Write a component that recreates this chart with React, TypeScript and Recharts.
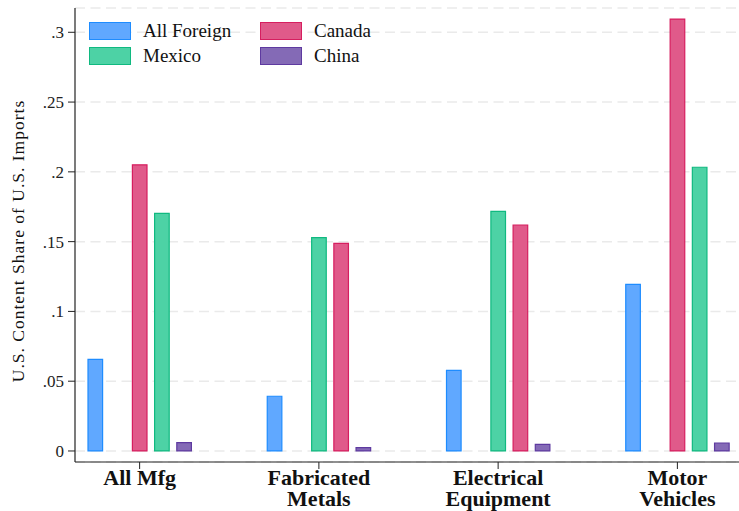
import React from 'react';
import { BarChart, Bar, XAxis, YAxis, CartesianGrid, Legend, Cell } from 'recharts';

const categories = ['All Mfg', 'Fabricated Metals', 'Electrical Equipment', 'Motor Vehicles'];
const tickLines: Record<string, string[]> = {
    'All Mfg': ['All Mfg'],
    'Fabricated Metals': ['Fabricated', 'Metals'],
    'Electrical Equipment': ['Electrical', 'Equipment'],
    'Motor Vehicles': ['Motor', 'Vehicles'],
};
const allForeign = [0.0657, 0.0392, 0.0577, 0.1194];
const canada = [0.205, 0.1488, 0.1619, 0.3095];
const mexico = [0.1703, 0.1528, 0.1717, 0.2033];
const china = [0.006, 0.0024, 0.0048, 0.0057];
const yTicks = [0, 0.05, 0.1, 0.15, 0.2, 0.25, 0.3];

const FONT = '"Liberation Serif", "DejaVu Serif", serif';

const colors: Record<string, { fill: string; stroke: string }> = {
    'All Foreign': { fill: '#60A8FF', stroke: '#1E8CFF' },
    Canada: { fill: '#E05A8A', stroke: '#D61E5F' },
    Mexico: { fill: '#4DD2A5', stroke: '#10B980' },
    China: { fill: '#846AB6', stroke: '#5E3AA0' },
};

// slots per group: All Foreign, empty, larger of Canada/Mexico, smaller, China
const rows = categories.map((name, i) => {
    const canFirst = canada[i] >= mexico[i];
    return {
        name,
        s0: allForeign[i],
        s1: null as number | null,
        s2: canFirst ? canada[i] : mexico[i],
        s3: canFirst ? mexico[i] : canada[i],
        s4: china[i],
        k2: canFirst ? 'Canada' : 'Mexico',
        k3: canFirst ? 'Mexico' : 'Canada',
    };
});

const legendItems = ['All Foreign', 'Canada', 'Mexico', 'China'];

const renderLegend = () => (
    <div style={{ display: 'grid', gridTemplateColumns: '171px auto', rowGap: 7, fontFamily: FONT }}>
        {legendItems.map((name) => (
            <div key={name} style={{ display: 'flex', alignItems: 'center', height: 18 }}>
                <div
                    style={{
                        width: 42,
                        height: 18,
                        boxSizing: 'border-box',
                        background: colors[name].fill,
                        border: `1.5px solid ${colors[name].stroke}`,
                        marginRight: 12,
                    }}
                />
                <span style={{ fontSize: 19, lineHeight: '18px', color: '#111', whiteSpace: 'nowrap' }}>{name}</span>
            </div>
        ))}
    </div>
);

const XTick = (props: any) => {
    const { x, y, payload } = props;
    const lines = tickLines[payload.value] || [String(payload.value)];
    return (
        <g transform={`translate(${x},${y})`}>
            <text textAnchor="middle" fontFamily={FONT} fontSize={22} fontWeight="bold" fill="#111">
                {lines.map((l, i) => (
                    <tspan key={l} x={0} y={13.5 + i * 21.7}>
                        {l}
                    </tspan>
                ))}
            </text>
        </g>
    );
};

const YLabel = () => (
    <text
        x={18}
        y={241}
        transform="rotate(-90, 18, 241)"
        textAnchor="middle"
        dominantBaseline="central"
        fontFamily={FONT}
        fontSize={17.5}
        letterSpacing={1}
        fill="#111"
    >
        U.S. Content Share of U.S. Imports
    </text>
);

const fmt = (v: number) => (v === 0 ? '0' : String(v).replace(/^0/, ''));

const App: React.FC = () => {
    return (
        <div style={{ position: 'absolute', left: 0, top: 0, background: '#fff' }}>
            <BarChart
                width={739}
                height={511}
                data={rows}
                margin={{ top: 8, right: 0, bottom: 0, left: 0 }}
                barSize={14.6}
                barGap={7.6}
            >
                <CartesianGrid vertical={false} stroke="#eaeaea" strokeWidth={1.5} strokeDasharray="10 5.5" />
                <XAxis
                    dataKey="name"
                    height={49}
                    padding={{ left: -25, right: -28 }}
                    tickSize={7}
                    tickMargin={2}
                    tick={<XTick />}
                    interval={0}
                    axisLine={{ stroke: '#222', strokeWidth: 1.2 }}
                    tickLine={{ stroke: '#222', strokeWidth: 1 }}
                />
                <YAxis
                    width={75}
                    domain={[-0.0079, 0.3174]}
                    ticks={yTicks}
                    tickFormatter={fmt}
                    tickSize={7}
                    tickMargin={4}
                    tick={{ fontFamily: FONT, fontSize: 17, fill: '#222' }}
                    axisLine={{ stroke: '#222', strokeWidth: 1.2 }}
                    tickLine={{ stroke: '#222', strokeWidth: 1 }}
                    label={{ content: () => <YLabel /> }}
                />
                <Legend
                    layout="vertical"
                    align="center"
                    verticalAlign="middle"
                    content={renderLegend}
                    wrapperStyle={{ left: 89, top: 22, width: 340 }}
                />
                <Bar dataKey="s0" isAnimationActive={false} fill={colors['All Foreign'].fill} stroke={colors['All Foreign'].stroke} strokeWidth={1.2} />
                <Bar dataKey="s1" isAnimationActive={false} fill="none" />
                <Bar dataKey="s2" isAnimationActive={false} strokeWidth={1.2}>
                    {rows.map((r, i) => (
                        <Cell key={`c2-${i}`} fill={colors[r.k2].fill} stroke={colors[r.k2].stroke} />
                    ))}
                </Bar>
                <Bar dataKey="s3" isAnimationActive={false} strokeWidth={1.2}>
                    {rows.map((r, i) => (
                        <Cell key={`c3-${i}`} fill={colors[r.k3].fill} stroke={colors[r.k3].stroke} />
                    ))}
                </Bar>
                <Bar dataKey="s4" isAnimationActive={false} fill={colors.China.fill} stroke={colors.China.stroke} strokeWidth={1.2} />
            </BarChart>
        </div>
    );
};

export default App;
